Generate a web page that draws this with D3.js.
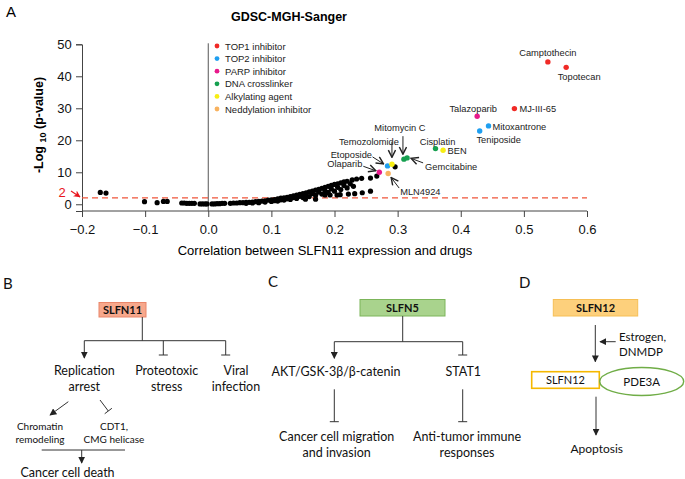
<!DOCTYPE html>
<html>
<head>
<meta charset="utf-8">
<script src="https://cdn.jsdelivr.net/npm/d3@7"></script>
<style>
body { margin: 0; background: #fff; }
svg { display: block; }
</style>
</head>
<body>
<script>
// ---- data ----
let xTicks = [-0.2, -0.1, 0.0, 0.1, 0.2, 0.3, 0.4, 0.5, 0.6]
let yTicks = [0, 10, 20, 30, 40, 50]
let threshold = 2

let categories = ["TOP1 inhibitor", "TOP2 inhibitor", "PARP inhibitor", "DNA crosslinker", "Alkylating agent", "Neddylation inhibitor"]
let catColors = ["#f02a26", "#1f9ff0", "#e8198b", "#16a050", "#f7ee14", "#f8b25f"]

let drugNames = ["Camptothecin", "Topotecan", "MJ-III-65", "Mitoxantrone", "Teniposide", "Etoposide",
                 "Talazoparib", "Olaparib", "Cisplatin", "Mitomycin C", "Gemcitabine", "BEN", "Temozolomide", "MLN4924"]
let drugCorr = [0.538, 0.567, 0.485, 0.444, 0.430, 0.284, 0.426, 0.271, 0.360, 0.310, 0.315, 0.372, 0.291, 0.285]
let drugLogP = [44.5, 42.8, 29.9, 24.5, 22.9, 12.0, 27.5, 10.0, 17.4, 14.1, 14.5, 16.9, 12.5, 9.6]
let drugCat  = [0, 0, 0, 1, 1, 1, 2, 2, 3, 3, 3, 4, 4, 5]

// other (unlabelled) drugs: [correlation, -log10 p]
let otherDrugs = [
  [-0.171, 3.7], [-0.162, 3.5], [-0.101, 0.8], [-0.081, 0.5], [-0.071, 0.9], [-0.065, 0.9],
  [-0.042, 0.4], [-0.038, 0.4], [-0.034, 0.3], [-0.030, 0.3], [-0.026, 0.3], [-0.022, 0.3],
  [-0.013, 0.1], [-0.009, 0.1], [-0.005, 0.1], [-0.002, 0.1], [0.006, 0.1], [0.010, 0.1],
  [0.014, 0.2], [0.018, 0.2], [0.022, 0.3], [0.026, 0.3],
  [0.035, 0.3], [0.040, 0.4], [0.045, 0.4], [0.050, 0.5], [0.055, 0.5], [0.060, 0.6], [0.065, 0.6],
  [0.070, 0.7], [0.075, 0.8], [0.080, 0.9], [0.085, 1.0], [0.090, 1.1], [0.095, 1.3], [0.100, 1.4],
  [0.105, 1.5], [0.110, 1.7], [0.115, 1.9], [0.120, 2.0], [0.125, 2.2], [0.130, 2.4], [0.135, 2.6],
  [0.140, 2.9], [0.145, 3.1], [0.150, 3.3], [0.155, 3.6], [0.160, 3.9], [0.165, 4.1], [0.170, 4.4],
  [0.175, 4.7], [0.180, 5.0], [0.185, 5.3], [0.190, 5.6], [0.195, 5.9], [0.200, 6.2], [0.205, 6.4],
  [0.210, 6.7], [0.215, 7.0], [0.220, 7.2], [0.228, 7.6], [0.235, 7.9], [0.243, 8.1], [0.257, 8.2],
  [0.267, 8.8],
  [0.060, 0.3], [0.070, 0.4], [0.080, 0.5], [0.090, 0.7], [0.100, 0.9], [0.110, 1.0], [0.120, 1.3],
  [0.130, 1.5], [0.140, 1.8], [0.150, 2.1], [0.160, 2.4], [0.170, 2.8], [0.180, 3.2], [0.190, 3.7],
  [0.200, 4.1], [0.210, 4.6], [0.220, 5.1], [0.230, 5.6],
  [0.105, 1.1], [0.115, 1.4], [0.125, 1.7], [0.135, 2.1], [0.145, 2.5], [0.155, 2.8], [0.165, 3.3],
  [0.175, 3.8], [0.185, 4.2], [0.195, 4.8], [0.205, 5.3], [0.215, 5.9], [0.225, 6.4],
  [0.154, 1.6], [0.170, 1.6], [0.185, 2.9], [0.193, 2.9], [0.204, 2.9], [0.209, 3.0], [0.222, 3.2],
  [0.232, 3.3], [0.244, 3.6], [0.257, 4.1], [0.296, 11.7]
]

// label placement relative to the dot (pixels): dx, dy, anchor, optional arrow [x1,y1,x2,y2]
let labelLayout = {
  "Camptothecin": [0, -6, "middle"],
  "Topotecan":    [13, 12.5, "middle"],
  "MJ-III-65":    [5, 3.5, "start"],
  "Mitoxantrone": [4, 4, "start"],
  "Teniposide":   [19, 12, "middle"],
  "Etoposide":    [-15.5, -8, "end", [-15, -9, -4, -2]],
  "Talazoparib":  [-4, -4.5, "middle"],
  "Olaparib":     [-17, -5, "end", [-16, -6, -3.5, -1.5]],
  "Cisplatin":    [2, -4, "middle"],
  "Mitomycin C":  [-4, -28.5, "middle", [-1, -23, -1, -5]],
  "Gemcitabine":  [18, 12.5, "start", [16, 5, 4, 0.5]],
  "BEN":          [4.5, 3.5, "start"],
  "Temozolomide": [-23, -19.5, "middle", [0, -22.5, 0, -7]],
  "MLN4924":      [12, 21, "start", [11, 14.5, 3, 4]]
}

let width = 685
let height = 479

let svg = d3.select("body")
            .append("svg")
            .attr("width", width)
            .attr("height", height)
            .style("font-family", "'Liberation Sans', Arial, sans-serif")

let defs = svg.append("defs")
defs.append("marker")
    .attr("id", "openArrow").attr("viewBox", "0 0 10 10")
    .attr("refX", 9).attr("refY", 5)
    .attr("markerWidth", 9).attr("markerHeight", 9)
    .attr("markerUnits", "userSpaceOnUse")
    .attr("orient", "auto")
    .append("path").attr("d", "M1,1 L9,5 L1,9").attr("fill", "none").attr("stroke", "#222").attr("stroke-width", 1.6)
defs.append("marker")
    .attr("id", "fillArrow").attr("viewBox", "0 0 10 10")
    .attr("refX", 9).attr("refY", 5)
    .attr("markerWidth", 7).attr("markerHeight", 7)
    .attr("markerUnits", "userSpaceOnUse")
    .attr("orient", "auto")
    .append("path").attr("d", "M0,0 L10,5 L0,10 Z").attr("fill", "#222")
defs.append("marker")
    .attr("id", "redArrow").attr("viewBox", "0 0 10 10")
    .attr("refX", 9).attr("refY", 5)
    .attr("markerWidth", 7).attr("markerHeight", 7)
    .attr("markerUnits", "userSpaceOnUse")
    .attr("orient", "auto")
    .append("path").attr("d", "M0,0 L10,5 L0,10 L3,5 Z").attr("fill", "#e8141c")

// ================= Panel A =================
svg.append("text").attr("x", 6).attr("y", 17).attr("font-size", 15).text("A")

svg.append("text")
   .attr("x", 289).attr("y", 21)
   .attr("text-anchor", "middle")
   .attr("font-size", 12.5).attr("font-weight", "bold")
   .text("GDSC-MGH-Sanger")

let xScale = d3.scaleLinear().domain([-0.2, 0.6]).range([82, 587])
let yScale = d3.scaleLinear().domain([-2.1, 50]).range([211, 44.3])

let xAxis = d3.axisBottom(xScale).tickValues(xTicks).tickSizeOuter(0).tickSize(6)
              .tickFormat(d3.format(".1f"))
let yAxis = d3.axisLeft(yScale).tickValues(yTicks).tickSizeOuter(0).tickSize(6)

let gx = svg.append("g")
   .attr("transform", "translate(0," + yScale(-2.1) + ")")
   .call(xAxis)
gx.selectAll("text").attr("font-size", 13).attr("dy", "1.1em").attr("fill", "#111")
gx.selectAll("line,path").attr("stroke", "#444")
gx.select(".domain").attr("d", "M" + xScale(-0.2) + ",0H" + xScale(0.6))

let gy = svg.append("g")
   .attr("transform", "translate(" + xScale(-0.2) + ",0)")
   .call(yAxis)
gy.selectAll("text").attr("font-size", 13).attr("fill", "#111").attr("dx", "-0.1em")
gy.selectAll("line,path").attr("stroke", "#444")

// x title
svg.append("text")
   .attr("x", 325).attr("y", 254.5)
   .attr("text-anchor", "middle")
   .attr("font-size", 13)
   .text("Correlation between SLFN11 expression and drugs")

// y title
let yt = svg.append("text")
   .attr("transform", "translate(43,125) rotate(-90)")
   .attr("text-anchor", "middle")
   .attr("font-size", 12.5).attr("font-weight", "bold")
yt.append("tspan").text("-Log ")
yt.append("tspan").attr("font-size", 9).attr("dy", 3).text("10")
yt.append("tspan").attr("dy", -3).text(" (p-value)")

// vertical zero line
svg.append("line")
   .attr("x1", xScale(0)).attr("x2", xScale(0))
   .attr("y1", yScale(50) - 1).attr("y2", yScale(-2.1))
   .attr("stroke", "#555").attr("stroke-width", 1)

// threshold line
svg.append("line")
   .attr("x1", xScale(-0.2)).attr("x2", xScale(0.6))
   .attr("y1", yScale(threshold)).attr("y2", yScale(threshold))
   .attr("stroke", "#f0553a").attr("stroke-width", 1.2)
   .attr("stroke-dasharray", "6,4")

svg.append("text")
   .attr("x", 62).attr("y", yScale(threshold) - 1)
   .attr("text-anchor", "middle")
   .attr("font-size", 13).attr("fill", "#e8141c")
   .text(threshold)
svg.append("line")
   .attr("x1", 71).attr("y1", yScale(threshold) - 7)
   .attr("x2", 80).attr("y2", yScale(threshold) - 1)
   .attr("stroke", "#e8141c").attr("stroke-width", 1.2)
   .attr("marker-end", "url(#redArrow)")

// legend
let legend = svg.append("g")
categories.forEach((c, i) => {
    let yy = 46 + i * 12.6
    legend.append("circle").attr("cx", 217).attr("cy", yy).attr("r", 2.4).attr("fill", catColors[i])
    legend.append("text").attr("x", 225).attr("y", yy + 3.5).attr("font-size", 9.5).attr("fill", "#222").text(c)
})

// black points
svg.append("g")
   .selectAll("circle")
   .data(otherDrugs)
   .enter()
   .append("circle")
   .attr("cx", (d) => xScale(d[0]))
   .attr("cy", (d) => yScale(d[1]))
   .attr("r", 2.6)
   .attr("fill", "#000")

// labelled drugs
let drugs = drugNames.map((n, i) => ({ name: n, x: drugCorr[i], y: drugLogP[i], cat: drugCat[i] }))

svg.append("g")
   .selectAll("circle")
   .data(drugs)
   .enter()
   .append("circle")
   .attr("cx", (d) => xScale(d.x))
   .attr("cy", (d) => yScale(d.y))
   .attr("r", 2.7)
   .attr("fill", (d) => catColors[d.cat])

let labels = svg.append("g")
drugs.forEach((d) => {
    let lay = labelLayout[d.name]
    let px = xScale(d.x), py = yScale(d.y)
    labels.append("text")
          .attr("x", px + lay[0]).attr("y", py + lay[1])
          .attr("text-anchor", lay[2])
          .attr("font-size", 9.3).attr("fill", "#222")
          .text(d.name)
    if (lay[3]) {
        let a = lay[3]
        labels.append("line")
              .attr("x1", px + a[0]).attr("y1", py + a[1])
              .attr("x2", px + a[2]).attr("y2", py + a[3])
              .attr("stroke", "#222").attr("stroke-width", 1)
              .attr("marker-end", "url(#openArrow)")
    }
})

// ================= Panels B-D (schematics) =================
let diag = svg.append("g").style("font-family", "Lato, 'Open Sans', sans-serif").attr("fill", "#111")

let line = (x1, y1, x2, y2, arrow) => {
    let l = diag.append("line")
        .attr("x1", x1).attr("y1", y1).attr("x2", x2).attr("y2", y2)
        .attr("stroke", "#333").attr("stroke-width", 1)
    if (arrow) l.attr("marker-end", "url(#fillArrow)")
    return l
}
let tbar = (x1, y1, x2, y2) => {
    line(x1, y1, x2, y2)
    let ang = Math.atan2(y2 - y1, x2 - x1)
    let h = 4.5
    line(x2 - h * Math.sin(ang), y2 + h * Math.cos(ang), x2 + h * Math.sin(ang), y2 - h * Math.cos(ang))
}
let label = (x, y, txt, size, anchor) => {
    diag.append("text").attr("x", x).attr("y", y)
        .attr("text-anchor", anchor || "middle")
        .attr("font-size", size).text(txt)
}
let box = (x, y, w, h, fill, stroke, txt, bold) => {
    diag.append("rect").attr("x", x).attr("y", y).attr("width", w).attr("height", h)
        .attr("fill", fill).attr("stroke", stroke).attr("stroke-width", bold ? 1 : 1.6)
    diag.append("text").attr("x", x + w / 2).attr("y", y + h / 2 + 4)
        .attr("text-anchor", "middle").attr("font-size", 11)
        .attr("font-weight", bold ? "bold" : "normal").text(txt)
}

// B
label(3, 289, "B", 15, "start")
box(99, 302.5, 47, 14.5, "#f7a88c", "#e9866a", "SLFN11", true)
line(142.3, 317, 142.3, 340.7)
line(84.3, 340.7, 225.7, 340.7)
line(84.3, 340.7, 84.3, 358, true)
tbar(163.3, 340.7, 163.3, 355)
tbar(225.7, 340.7, 225.7, 355)
label(84.3, 375, "Replication", 12.5)
label(84.3, 391, "arrest", 12.5)
label(166.7, 375, "Proteotoxic", 12.5)
label(166.7, 391, "stress", 12.5)
label(236, 375, "Viral", 12.5)
label(236, 391, "infection", 12.5)
line(68.3, 401.7, 50, 415, true)
tbar(100, 400, 108.3, 411)
label(40, 429.5, "Chromatin", 10)
label(40, 443, "remodeling", 10)
label(114, 429.5, "CDT1,", 10)
label(114, 443, "CMG helicase", 10)
line(41.7, 450, 125, 450)
line(81.7, 450, 81.7, 463, true)
label(67.5, 476.5, "Cancer cell death", 12.5)

// C
label(268, 287, "C", 15, "start")
box(360, 299.5, 85, 16.5, "#a9d38d", "#7cb55a", "SLFN5", true)
line(402.7, 316, 402.7, 341.7)
line(334.3, 341.7, 462.7, 341.7)
line(334.3, 341.7, 334.3, 358.3, true)
tbar(462.7, 341.7, 462.7, 355)
label(336, 376, "AKT/GSK-3β/β-catenin", 12.5)
label(463.3, 376, "STAT1", 12.5)
tbar(334.3, 389.3, 334.3, 421.7)
tbar(462.7, 389.3, 462.7, 421.7)
label(336.7, 441, "Cancer cell migration", 12.5)
label(336.7, 457, "and invasion", 12.5)
label(467, 441, "Anti-tumor immune", 12.5)
label(467, 457, "responses", 12.5)

// D
label(519, 288, "D", 15, "start")
box(553.3, 299.5, 84.4, 16.5, "#fdd07c", "#f6bf55", "SLFN12", true)
line(595.3, 325, 595.3, 361.7, true)
line(615.7, 341.7, 600, 341.7, true)
label(619, 340.7, "Estrogen,", 11.5, "start")
label(619, 355.7, "DNMDP", 11.5, "start")
box(531.7, 371.7, 67.6, 16.6, "#fff", "#f5b800", "SLFN12", false)
diag.append("ellipse")
    .attr("cx", 641.7).attr("cy", 381.5).attr("rx", 42).attr("ry", 14)
    .attr("fill", "none").attr("stroke", "#70ad47").attr("stroke-width", 1.4)
label(641.7, 385.5, "PDE3A", 11.5)
line(596, 396.7, 596, 435, true)
label(596.7, 452.5, "Apoptosis", 12)
</script>
</body>
</html>
